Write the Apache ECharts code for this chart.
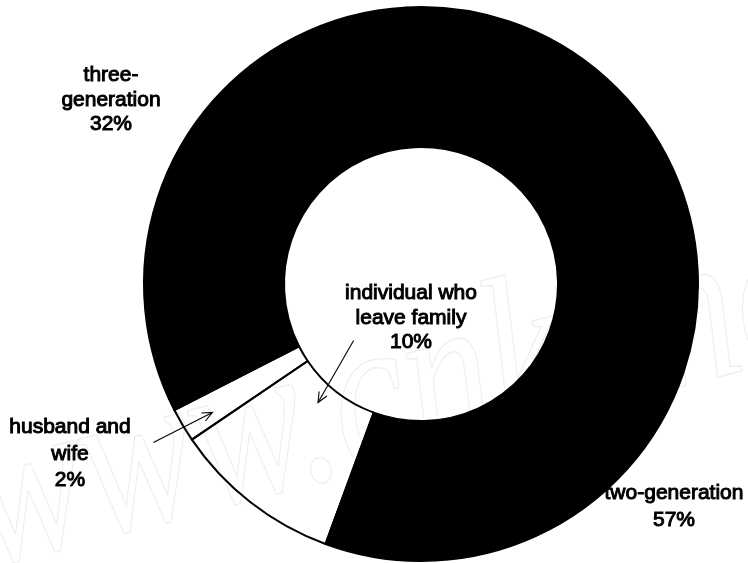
<!DOCTYPE html>
<html>
<head>
<meta charset="utf-8">
<script src="https://cdn.jsdelivr.net/npm/echarts@6/dist/echarts.min.js"></script>
<style>
  html, body { margin: 0; padding: 0; background: #fff; }
  #chart { width: 748px; height: 563px; }
</style>
</head>
<body>
<div id="chart"></div>
<script>
// Household types, in clockwise order from just left of twelve o'clock
const categories = ['two-generation', 'individual who\nleave family', 'husband and\nwife', 'three-\ngeneration'];
const shares = [57, 10, 2, 32];

// Ring geometry and label placement
const ringCenter = [421, 284];
const ringRadius = [137, 277];
const startAngle = 93;
const sliceFills = ['#000000', 'rgba(255,255,255,0)', 'rgba(255,255,255,0)', '#000000'];
const labelSpots = [[674, 507], [411, 318], [70, 454], [111, 100]];
const labelLineHeights = [27, 24.5, 26.5, 24.5];

// Pointer arrows: slice index, radius/angle-offset of tail and tip (degrees, relative to slice middle)
const pointers = [
  { slice: 2, tail: [311, 0], tip: [245, -1] },
  { slice: 1, tail: [88, 12], tip: [157, 3] }
];

const total = shares.reduce((a, b) => a + b, 0);

// Middle angle of each slice (maths convention, degrees, counter-clockwise from 3 o'clock)
function sliceMid(i) {
  let a = startAngle;
  for (let k = 0; k < i; k++) a -= shares[k] / total * 360;
  return a - shares[i] / total * 360 / 2;
}
function polar(r, deg) {
  const t = deg * Math.PI / 180;
  return [ringCenter[0] + r * Math.cos(t), ringCenter[1] - r * Math.sin(t)];
}

function arrowElements(p) {
  const mid = sliceMid(p.slice);
  const a = polar(p.tail[0], mid - p.tail[1]);
  const b = polar(p.tip[0], mid - p.tip[1]);
  const ang = Math.atan2(b[1] - a[1], b[0] - a[0]);
  const head = 11, spread = 0.42;
  const h1 = [b[0] - head * Math.cos(ang - spread), b[1] - head * Math.sin(ang - spread)];
  const h2 = [b[0] - head * Math.cos(ang + spread), b[1] - head * Math.sin(ang + spread)];
  return [
    { type: 'line', z: 20, shape: { x1: a[0], y1: a[1], x2: b[0], y2: b[1] },
      style: { stroke: '#000', lineWidth: 1.1 } },
    { type: 'polyline', z: 20, shape: { points: [h1, b, h2] },
      style: { stroke: '#000', lineWidth: 1.1, fill: null } }
  ];
}

const chart = echarts.init(document.getElementById('chart'), null, { renderer: 'canvas' });

const graphics = [
  {
    type: 'text',
    z: -10,
    x: 0, y: 618,
    rotation: 14.6 * Math.PI / 180,
    scaleX: 0.78,
    silent: true,
    style: {
      text: 'www.cnki.net',
      font: 'italic 220px "Liberation Serif"',
      fill: 'rgba(0,0,0,0)',
      stroke: '#eeeeee',
      lineWidth: 1.3,
      verticalAlign: 'bottom'
    }
  }
];
pointers.forEach(p => arrowElements(p).forEach(e => graphics.push(e)));

chart.setOption({
  animation: false,
  backgroundColor: '#ffffff',
  graphic: graphics,
  series: [{
    type: 'pie',
    center: ringCenter,
    radius: ringRadius,
    startAngle: startAngle,
    clockwise: true,
    avoidLabelOverlap: false,
    silent: true,
    data: categories.map((name, i) => ({
      name: name,
      value: shares[i],
      itemStyle: { color: sliceFills[i] },
      label: { lineHeight: labelLineHeights[i] }
    })),
    itemStyle: { borderColor: '#000', borderWidth: 2 },
    label: {
      show: true,
      position: 'outside',
      formatter: p => p.name + '\n' + p.value + '%',
      color: '#000',
      fontFamily: 'Liberation Sans, Arial, sans-serif',
      fontSize: 21,
      textBorderColor: '#000',
      textBorderWidth: 1,
      align: 'center'
    },
    labelLine: { show: false },
    labelLayout: params => ({
      x: labelSpots[params.dataIndex][0],
      y: labelSpots[params.dataIndex][1],
      align: 'center',
      verticalAlign: 'middle'
    })
  }]
});
</script>
</body>
</html>
